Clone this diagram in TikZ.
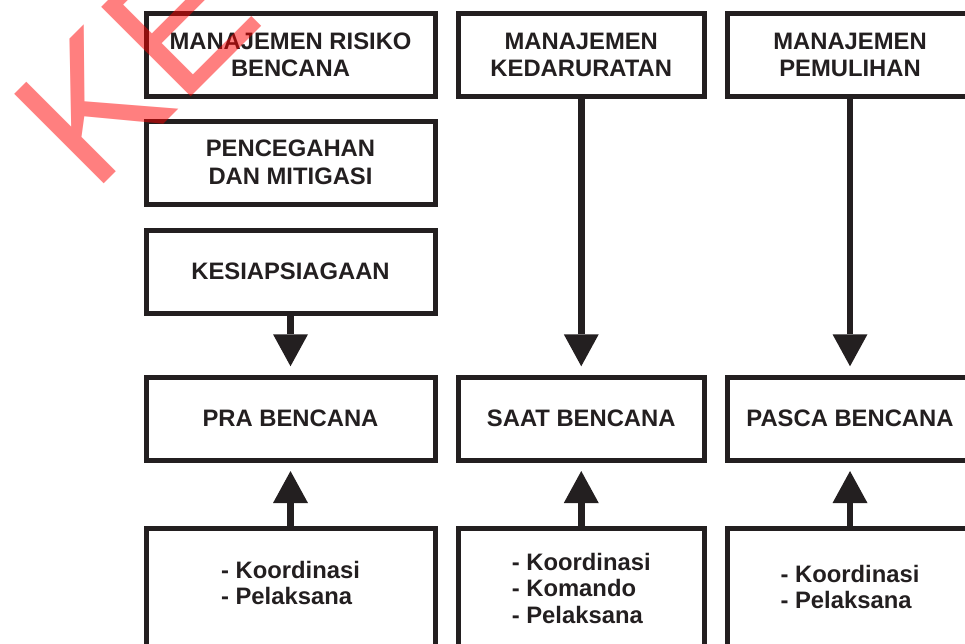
\documentclass[tikz,border=0pt]{standalone}
\usepackage{fontspec}
\setmainfont{Liberation Sans}
\usepackage{tikz}
\usetikzlibrary{arrows.meta}
\definecolor{ink}{HTML}{231F20}
\newcommand{\boxfont}{\fontsize{23.8}{27.4}\selectfont\bfseries}
\newcommand{\listfont}{\fontsize{23.8}{26.5}\selectfont\bfseries}
\newcommand{\wmfont}{\fontsize{184}{184}\selectfont}
\tikzset{
  phase/.style={ draw=ink, line width=5pt, minimum height=83pt, align=center, text=ink, font=\boxfont, inner sep=0pt }
}
\tikzset{
  phaseA/.style={ phase, minimum width=289pt }
}
\tikzset{
  phaseB/.style={ phase, minimum width=245.5pt }
}
\tikzset{
  tasks/.style={ align=left, text=ink, font=\listfont, inner sep=0pt }
}
\tikzset{
  bigarrow/.style={ draw=ink, line width=6.6pt, -{Triangle[width=35pt,length=32pt,line width=0pt]} }
}

\begin{document}
\begin{tikzpicture}[x=1pt, y=-1pt]
  \useasboundingbox (0,0) rectangle (965,643);
  \clip (0,0) rectangle (965,643);
  % column 1
  \node[phaseA] (mrisk) at (290.5, 55) {MANAJEMEN RISIKO\\BENCANA};
  \node[phaseA] (cegah) at (290.5, 162.5) {PENCEGAHAN\\DAN MITIGASI};
  \node[phaseA] (siaga) at (290.5, 271.75) {KESIAPSIAGAAN};
  \node[phaseA] (pra) at (290.5, 418.75) {PRA BENCANA};
  \node[phaseA, minimum height=140pt] (peranA) at (290.5, 598.5) {};
  \node[tasks] (listA) at (290.5, 583) {- Koordinasi\\- Pelaksana};
  % column 2
  \node[phaseB] (mdarurat) at (581.25, 55) {MANAJEMEN\\KEDARURATAN};
  \node[phaseB] (saat) at (581.25, 418.75) {SAAT BENCANA};
  \node[phaseB, minimum height=140pt] (peranB) at (581.25, 598.5) {};
  \node[tasks] (listB) at (581.25, 588) {- Koordinasi\\- Komando\\- Pelaksana};
  % column 3
  \node[phaseB] (mpulih) at (850, 55) {MANAJEMEN\\PEMULIHAN};
  \node[phaseB] (pasca) at (850, 418.75) {PASCA BENCANA};
  \node[phaseB, minimum height=140pt] (peranC) at (850, 598.5) {};
  \node[tasks] (listC) at (850, 587) {- Koordinasi\\- Pelaksana};
  % arrows
  \draw[bigarrow, shorten >=8.5pt] (siaga.south) -- (pra.north);
  \draw[bigarrow, shorten >=8.5pt] (mdarurat.south) -- (saat.north);
  \draw[bigarrow, shorten >=8.5pt] (mpulih.south) -- (pasca.north);
  \draw[bigarrow, shorten >=8.3pt] (peranA.north) -- (pra.south);
  \draw[bigarrow, shorten >=8.3pt] (peranB.north) -- (saat.south);
  \draw[bigarrow, shorten >=8.3pt] (peranC.north) -- (pasca.south);
  % watermark
  \node[anchor=base west, rotate=45, inner sep=0pt, text=red, opacity=0.5, font=\wmfont] (wm) at (93.5, 194.5) {KE};
\end{tikzpicture}
\end{document}
